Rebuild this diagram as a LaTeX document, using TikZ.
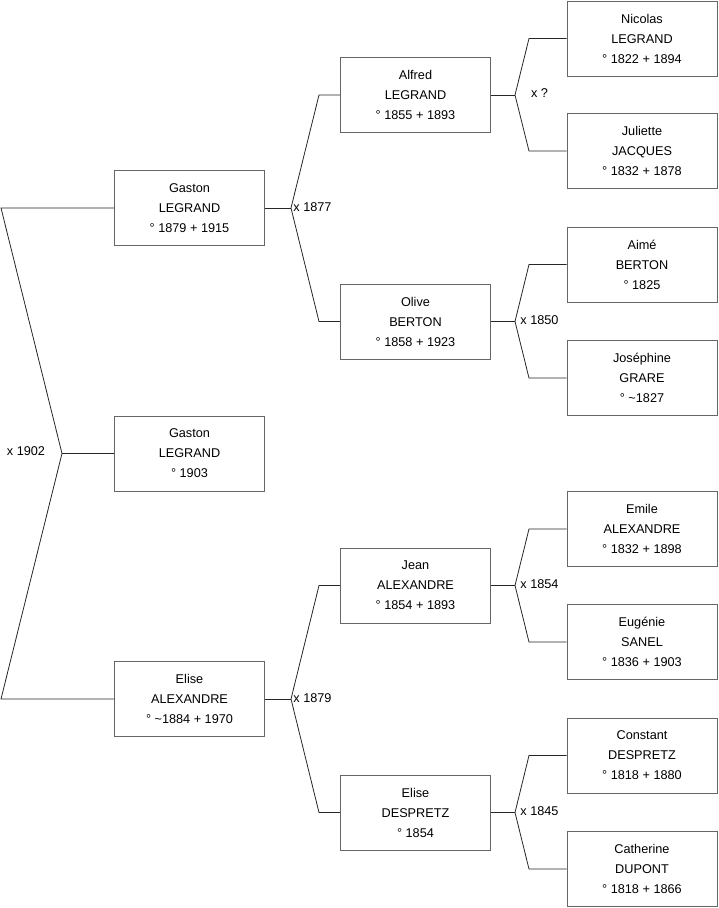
\documentclass[tikz,border=0pt]{standalone}
\usepackage{fontspec}
\setmainfont{Liberation Sans}
\begin{document}
\begin{tikzpicture}[x=1pt,y=-1pt,
  person/.style={draw=black!60,line width=0.9pt,fill=white,minimum width=150pt,minimum height=75pt,
    align=center,inner sep=0pt,font=\fontsize{12.7}{20}\selectfont},
  link/.style={draw=black!85,line width=0.8pt},
  mlabel/.style={inner sep=0pt,font=\fontsize{12.7}{14}\selectfont}]
\useasboundingbox (0,0) rectangle (719,908);
% generation 1
\node[person] (gaston) at (189.5,208) {Gaston\\LEGRAND\\° 1879 + 1915};
\node[person] (child) at (189.5,453.5) {Gaston\\LEGRAND\\° 1903};
\node[person] (elise) at (189.5,699) {Elise\\ALEXANDRE\\° \textasciitilde1884 + 1970};
% generation 2
\node[person] (alfred) at (415.5,95) {Alfred\\LEGRAND\\° 1855 + 1893};
\node[person] (olive) at (415.5,321.5) {Olive\\BERTON\\° 1858 + 1923};
\node[person] (jean) at (415.5,585.5) {Jean\\ALEXANDRE\\° 1854 + 1893};
\node[person] (elised) at (415.5,812.5) {Elise\\DESPRETZ\\° 1854};
% generation 3
\node[person] (nicolas) at (642,38.5) {Nicolas\\LEGRAND\\° 1822 + 1894};
\node[person] (juliette) at (642,151) {Juliette\\JACQUES\\° 1832 + 1878};
\node[person] (aime) at (642,264.5) {Aimé\\BERTON\\° 1825};
\node[person] (josephine) at (642,378) {Joséphine\\GRARE\\° \textasciitilde1827};
\node[person] (emile) at (642,529) {Emile\\ALEXANDRE\\° 1832 + 1898};
\node[person] (eugenie) at (642,642) {Eugénie\\SANEL\\° 1836 + 1903};
\node[person] (constant) at (642,755.5) {Constant\\DESPRETZ\\° 1818 + 1880};
\node[person] (catherine) at (642,869) {Catherine\\DUPONT\\° 1818 + 1866};
% junctions
\coordinate (j0) at (62,453.5);
\coordinate (j0a) at (1,208);
\coordinate (j0b) at (1,699);
\coordinate (j1) at (291,208);
\coordinate (j1a) at (319,95);
\coordinate (j1b) at (319,321.5);
\coordinate (j2) at (291,699);
\coordinate (j2a) at (319,585.5);
\coordinate (j2b) at (319,812.5);
\coordinate (j3) at (515,95);
\coordinate (j3a) at (529,38.5);
\coordinate (j3b) at (529,151);
\coordinate (j4) at (515,321.5);
\coordinate (j4a) at (529,264.5);
\coordinate (j4b) at (529,378);
\coordinate (j5) at (515,585.5);
\coordinate (j5a) at (529,529);
\coordinate (j5b) at (529,642);
\coordinate (j6) at (515,812.5);
\coordinate (j6a) at (529,755.5);
\coordinate (j6b) at (529,869);
% connectors
\draw[link] (child.west) -- (j0);
\draw[link] (gaston.west) -- (j0a) -- (j0) -- (j0b) -- (elise.west);
\draw[link] (gaston.east) -- (j1);
\draw[link] (alfred.west) -- (j1a) -- (j1) -- (j1b) -- (olive.west);
\draw[link] (elise.east) -- (j2);
\draw[link] (jean.west) -- (j2a) -- (j2) -- (j2b) -- (elised.west);
\draw[link] (alfred.east) -- (j3);
\draw[link] (nicolas.west) -- (j3a) -- (j3) -- (j3b) -- (juliette.west);
\draw[link] (olive.east) -- (j4);
\draw[link] (aime.west) -- (j4a) -- (j4) -- (j4b) -- (josephine.west);
\draw[link] (jean.east) -- (j5);
\draw[link] (emile.west) -- (j5a) -- (j5) -- (j5b) -- (eugenie.west);
\draw[link] (elised.east) -- (j6);
\draw[link] (constant.west) -- (j6a) -- (j6) -- (j6b) -- (catherine.west);
% marriage labels
\node[mlabel] (m0) at (26,451) {x 1902};
\node[mlabel] (m1) at (312.5,207) {x 1877};
\node[mlabel] (m2) at (312.5,698) {x 1879};
\node[mlabel] (m3) at (539.5,93) {x ?};
\node[mlabel] (m4) at (539.5,320) {x 1850};
\node[mlabel] (m5) at (539.5,584) {x 1854};
\node[mlabel] (m6) at (539.5,811) {x 1845};
\end{tikzpicture}
\end{document}
